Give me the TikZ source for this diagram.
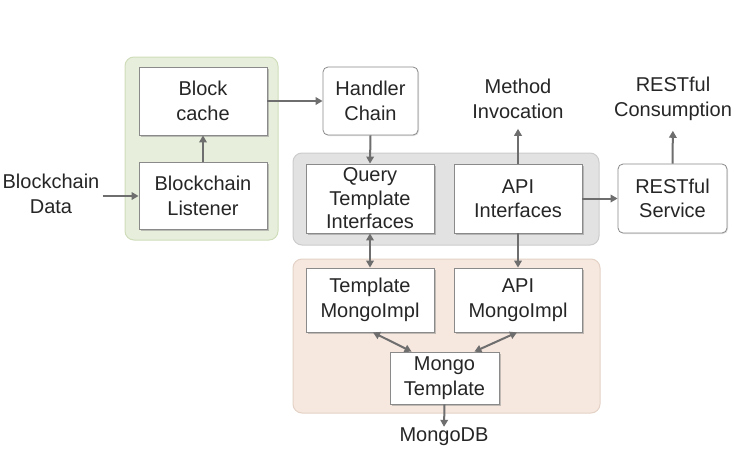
\documentclass[tikz,border=0pt]{standalone}
\usepackage{fontspec}
\setmainfont{Liberation Sans}
\usetikzlibrary{arrows.meta,shadows}
\definecolor{txt}{HTML}{262626}
\definecolor{arr}{HTML}{6E6E6E}
\definecolor{bord}{HTML}{8A8A8A}
\definecolor{gfill}{HTML}{E7EFDC}
\definecolor{gbord}{HTML}{CFDDBA}
\definecolor{kfill}{HTML}{E2E2E2}
\definecolor{kbord}{HTML}{CCCCCC}
\definecolor{ofill}{HTML}{F6E8DF}
\definecolor{obord}{HTML}{E4D2C6}
\begin{document}
\begin{tikzpicture}[x=1pt,y=-1pt,
  every node/.style={text=txt,font=\fontsize{20}{24.5}\selectfont,align=center},
  sqbox/.style={draw=bord,line width=0.8pt,fill=white,inner sep=0pt,
    drop shadow={shadow xshift=1.5pt,shadow yshift=-1.5pt,opacity=0.45,fill=gray}},
  rdbox/.style={draw=bord,line width=0.8pt,fill=white,inner sep=0pt,rounded corners=5pt,
    drop shadow={shadow xshift=1pt,shadow yshift=-1pt,opacity=0.25,fill=gray}},
  lbl/.style={inner sep=0pt},
  group/.style={rounded corners=9pt,line width=1pt},
  arrw/.style={draw=arr,line width=2pt,-{Triangle[length=7pt,width=7.5pt]}},
  darrw/.style={draw=arr,line width=2pt,{Triangle[length=7pt,width=7.5pt]}-{Triangle[length=7pt,width=7.5pt]}}
]
\useasboundingbox[fill=white] (0,0) rectangle (741,458);
% groups
\draw[group,fill=gfill,draw=gbord] (125,57) rectangle (278,240);
\draw[group,fill=kfill,draw=kbord] (293,153) rectangle (599,245);
\draw[group,fill=ofill,draw=obord] (293,259) rectangle (600,413);
% boxes
\node[sqbox,minimum width=128pt,minimum height=68pt] (cache) at (203,101) {Block\\cache};
\node[sqbox,minimum width=128pt,minimum height=67pt] (listener) at (203,196) {Blockchain\\Listener};
\node[rdbox,minimum width=95pt,minimum height=68pt] (handler) at (370.5,101) {Handler\\Chain};
\node[sqbox,minimum width=128pt,minimum height=69pt,font=\fontsize{20}{23.5}\selectfont] (query) at (370,198.5) {Query\\Template\\Interfaces};
\node[sqbox,minimum width=128pt,minimum height=69pt] (api) at (518,198.5) {API\\Interfaces};
\node[rdbox,minimum width=109pt,minimum height=69pt] (rest) at (672.5,198.5) {RESTful\\Service};
\node[sqbox,minimum width=128pt,minimum height=64pt] (tmi) at (370,300) {Template\\MongoImpl};
\node[sqbox,minimum width=128pt,minimum height=64pt] (ami) at (518,300) {API\\MongoImpl};
\node[sqbox,minimum width=109pt,minimum height=52pt] (mt) at (444.5,378) {Mongo\\Template};
% labels
\node[lbl] (data) at (51,194) {Blockchain\\Data};
\node[lbl] (method) at (518,99) {Method\\Invocation};
\node[lbl] (consume) at (673,99) {RESTful\\Consumption};
\node[lbl] (mongodb) at (444,437) {MongoDB};
% connectors
\draw[arrw,shorten <=3pt] (data.east |- listener.west) -- (listener.west);
\draw[arrw] (listener.north) -- (cache.south);
\draw[arrw] (cache.east) -- (handler.west);
\draw[arrw] (handler.south) -- (query.north);
\draw[arrw,shorten >=10pt] (api.north) -- (method.south);
\draw[arrw] (api.east) -- (rest.west);
\draw[arrw,shorten >=10pt] (rest.north) -- (consume.south);
\draw[darrw] (query.south) -- (tmi.north);
\draw[arrw] (api.south) -- (ami.north);
\draw[darrw] ([xshift=3pt]tmi.south) -- ([xshift=22pt]mt.north west);
\draw[darrw] ([xshift=-1pt]ami.south) -- ([xshift=-25pt]mt.north east);
\draw[arrw,shorten >=1pt] (mt.south) -- (mongodb.north);
\end{tikzpicture}
\end{document}
